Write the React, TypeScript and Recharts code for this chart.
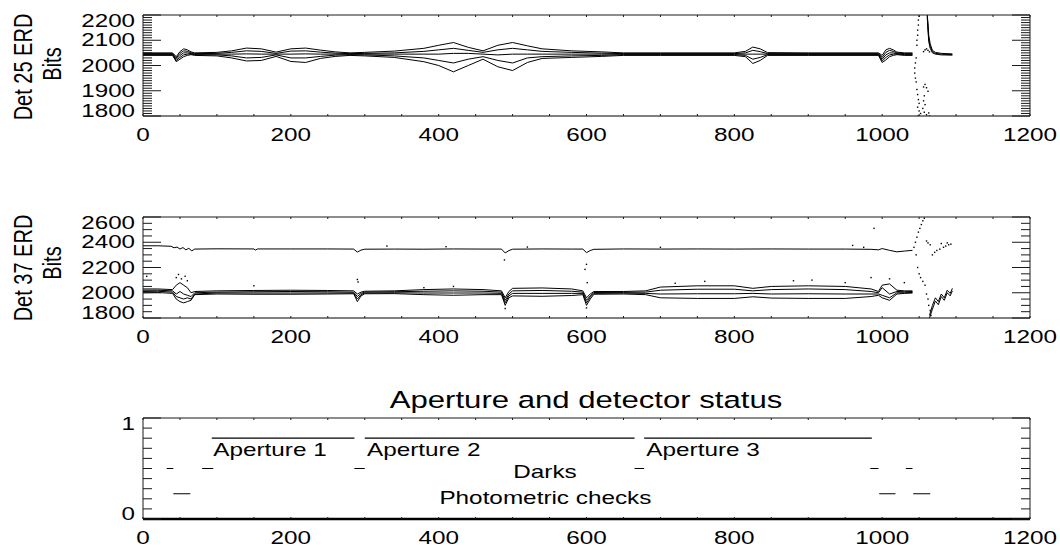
import React from "react"
import { ComposedChart, Line, Scatter, XAxis, YAxis } from "recharts"

const FONT = '"Liberation Sans", Arial, Helvetica, sans-serif'
const STRETCH = 1.35 // the reference glyphs are wide, like a horizontally stretched Helvetica
const AXIS = "#1a1a1a"
const INK = "#000"

// ====== shared x axis ======
const xLabels = [0, 200, 400, 600, 800, 1000, 1200]

// ====== Det 25 ERD (top panel) ======
const d25YLabels = [1800, 1900, 2000, 2100, 2200]
const d25X = [
  0, 40, 45, 50, 55, 60, 65, 70, 100, 120, 140, 160, 180, 200, 220, 240, 260, 280, 300, 340, 380, 400,
  420, 440, 460, 480, 500, 520, 540, 580, 620, 650, 700, 800, 815, 825, 835, 845, 900, 995, 1000, 1005,
  1010, 1015, 1020, 1030, 1041,
]
const d25A = [
  2050, 2050, 2035, 2055, 2066, 2062, 2054, 2050, 2052, 2058, 2069, 2066, 2053, 2066, 2069, 2061, 2054, 2050, 2052, 2057, 2068, 2080,
  2091, 2072, 2058, 2080, 2091, 2078, 2066, 2058, 2054, 2050, 2050, 2050, 2056, 2073, 2066, 2051, 2050, 2050, 2040, 2062,
  2068, 2062, 2053, 2050, 2050,
]
const d25B = [
  2047, 2047, 2030, 2048, 2058, 2056, 2050, 2047, 2048, 2052, 2058, 2056, 2048, 2057, 2058, 2053, 2049, 2047, 2048, 2050, 2056, 2062,
  2068, 2060, 2052, 2062, 2068, 2062, 2056, 2052, 2049, 2047, 2047, 2047, 2050, 2060, 2055, 2047, 2047, 2047, 2032, 2052,
  2060, 2056, 2050, 2047, 2047,
]
const d25C = [
  2045, 2045, 2025, 2040, 2050, 2050, 2047, 2045, 2045, 2045, 2046, 2045, 2045, 2045, 2046, 2045, 2045, 2045, 2045, 2045, 2045, 2045,
  2048, 2048, 2045, 2042, 2045, 2045, 2045, 2045, 2045, 2045, 2045, 2045, 2045, 2045, 2045, 2045, 2045, 2045, 2025, 2042,
  2050, 2050, 2047, 2045, 2045,
]
const d25D = [
  2043, 2043, 2020, 2032, 2042, 2045, 2045, 2043, 2042, 2038, 2030, 2032, 2042, 2030, 2030, 2036, 2041, 2043, 2042, 2038, 2030, 2020,
  2010, 2025, 2035, 2020, 2010, 2030, 2035, 2038, 2040, 2043, 2043, 2043, 2040, 2025, 2032, 2043, 2043, 2043, 2018, 2032,
  2042, 2045, 2045, 2043, 2043,
]
const d25E = [
  2040, 2040, 2015, 2025, 2035, 2040, 2043, 2040, 2038, 2030, 2018, 2020, 2036, 2016, 2012, 2028, 2036, 2040, 2038, 2032, 2015, 2000,
  1975, 2000, 2025, 1995, 1980, 2012, 2028, 2032, 2036, 2040, 2040, 2040, 2035, 2008, 2020, 2040, 2040, 2040, 2012, 2022,
  2035, 2040, 2043, 2040, 2040,
]
const d25TailX = [1061, 1062, 1063, 1065, 1068, 1072, 1080, 1095]
const d25TailA = [2200, 2165, 2120, 2085, 2060, 2052, 2048, 2046]
const d25TailB = [2198, 2150, 2105, 2075, 2055, 2048, 2045, 2043]
const d25TailC = [2190, 2140, 2095, 2068, 2050, 2045, 2042, 2041]
const d25Dots = [
  [1050, 2195], [1049, 2180], [1049, 2160], [1048, 2140], [1048, 2120], [1047, 2100], [1047, 2080],
  [1046, 2030], [1045, 2010], [1044, 1990], [1044, 1970], [1045, 1950], [1046, 1935], [1047, 1905],
  [1048, 1885], [1049, 1865], [1050, 1850], [1048, 1835], [1050, 1820], [1052, 1810], [1049, 1800],
  [1051, 1795], [1056, 1915], [1058, 1925], [1060, 1912], [1062, 1898], [1057, 1880], [1056, 1860],
  [1058, 1845], [1055, 1830], [1057, 1815], [1060, 1805], [1063, 1812], [1064, 1800], [1056, 2055],
  [1058, 2062], [1060, 2066], [1062, 2060], [1064, 2054],
]

// ====== Det 37 ERD (middle panel) ======
const d37YLabels = [1800, 2000, 2200, 2400, 2600]
const d37TopX = [
  0, 20, 38, 42, 46, 50, 54, 58, 62, 66, 70, 100, 150, 152, 155, 200, 250, 285, 290, 295, 300, 340, 380, 420, 460,
  485, 490, 495, 500, 540, 580, 595, 600, 605, 610, 650, 700, 750, 800, 850, 900, 950, 985, 995, 1000, 1010, 1020,
  1030, 1041,
]
const d37Top = [
  2372, 2372, 2368, 2356, 2362, 2346, 2358, 2340, 2352, 2332, 2346, 2348, 2347, 2338, 2347, 2347, 2347, 2346, 2322, 2338, 2345, 2346, 2345, 2347, 2346,
  2346, 2315, 2334, 2345, 2347, 2346, 2346, 2318, 2334, 2344, 2347, 2346, 2347, 2346, 2347, 2346, 2346, 2344, 2340, 2350, 2336, 2324,
  2330, 2336,
]
const d37X = [
  0, 20, 40, 45, 50, 55, 60, 65, 70, 100, 150, 200, 250, 285, 290, 295, 300, 340, 380, 420, 460, 485, 490, 495,
  500, 540, 580, 595, 600, 605, 610, 650, 680, 700, 750, 800, 825, 850, 900, 950, 985, 995, 1000, 1010, 1020, 1030, 1041,
]
const d37A = [
  2030, 2030, 2025, 2060, 2080, 2060, 2040, 2000, 2010, 2015, 2018, 2020, 2018, 2015, 1990, 2005, 2012, 2015, 2025, 2030, 2025, 2015, 1960, 2010,
  2035, 2038, 2030, 2015, 1960, 1990, 2010, 2010, 2015, 2045, 2055, 2055, 2035, 2050, 2055, 2050, 2030, 2010, 2060, 2070, 2020, 2015, 2015,
]
const d37B = [
  2020, 2020, 2015, 1990, 2010, 1990, 1980, 1970, 2000, 2005, 2008, 2010, 2008, 2005, 1970, 1995, 2005, 2008, 2012, 2015, 2012, 2005, 1940, 1990,
  2015, 2018, 2012, 2005, 1940, 1975, 2002, 2003, 2005, 2020, 2028, 2028, 2015, 2025, 2030, 2025, 2010, 2000, 2040, 1990, 2010, 2008, 2010,
]
const d37C = [
  2010, 2012, 2005, 1970, 1960, 1950, 1960, 1950, 1990, 1998, 1998, 1998, 1998, 1998, 1950, 1985, 1998, 2000, 1998, 1998, 1998, 1995, 1920, 1975,
  1995, 1995, 1995, 1995, 1920, 1965, 1995, 1997, 1995, 1990, 1992, 1992, 1995, 1990, 1992, 1990, 1990, 1990, 1980, 1960, 2000, 2000, 2002,
]
const d37D = [
  2000, 2002, 1995, 1950, 1930, 1920, 1930, 1940, 1985, 1990, 1988, 1988, 1990, 1992, 1930, 1975, 1992, 1993, 1985, 1980, 1985, 1985, 1900, 1960,
  1975, 1972, 1978, 1985, 1900, 1950, 1988, 1990, 1985, 1960, 1955, 1955, 1968, 1958, 1955, 1955, 1970, 1980, 1960, 1940, 1990, 1995, 1998,
]
const d37TailX = [1064, 1068, 1072, 1076, 1080, 1084, 1088, 1092, 1095]
const d37TailA = [1820, 1900, 1960, 1930, 1990, 1960, 2020, 1995, 2035]
const d37TailB = [1800, 1870, 1935, 1905, 1970, 1940, 2000, 1975, 2015]
const d37Dots = [
  [5, 2130], [45, 2120], [48, 2145], [52, 2110], [57, 2130], [60, 2095], [150, 2055], [290, 2105], [291, 2085],
  [330, 2370], [380, 2040], [410, 2365], [420, 2050], [489, 2260], [490, 1875], [520, 2362], [598, 2185],
  [600, 2225], [601, 2080], [600, 1880], [700, 2360], [720, 2075], [760, 2090], [880, 2095], [905, 2100],
  [950, 2080], [960, 2375], [975, 2360], [985, 2120], [989, 2510], [1010, 2110], [1030, 2080], [1043, 2360],
  [1045, 2400], [1047, 2440], [1049, 2480], [1051, 2510], [1053, 2540], [1055, 2570], [1057, 2590],
  [1046, 2300], [1048, 2200], [1050, 2150], [1052, 2120], [1055, 2090], [1058, 2060], [1060, 1990],
  [1062, 1950], [1063, 1900], [1065, 1860], [1066, 1820], [1060, 2410], [1062, 2395], [1065, 2380],
  [1068, 2300], [1071, 2320], [1074, 2335], [1078, 2345], [1083, 2360], [1086, 2370], [1090, 2380],
  [1093, 2385], [1080, 2390], [1088, 2395],
]

// ====== Aperture and detector status (bottom panel) ======
const statusYLabels = [0, 1]
const apertureLevel = 0.8
const darksLevel = 0.5
const photoLevel = 0.25
const apertureSegs = [[93, 286], [300, 665], [678, 986]]
const darksSegs = [[32, 41], [80, 95], [286, 300], [665, 678], [984, 995], [1032, 1041]]
const photoSegs = [[41, 64], [996, 1018], [1042, 1065]]
const statusText = ["Aperture 1", "Aperture 2", "Aperture 3", "Darks", "Photometric checks"]
const statusTextX = [95, 303, 681, 501, 401]
const statusTextY = [0.62, 0.62, 0.62, 0.41, 0.15]

// ====== helpers ======
const range = (a: number, b: number, s: number) => {
  const out: number[] = []
  for (let v = a; v <= b + 1e-9; v += s) out.push(Math.round(v * 1000) / 1000)
  return out
}
const pts = (xs: number[], ys: number[]) => xs.map((x, i) => ({ x, y: ys[i] }))
const pairs = (list: number[][]) => list.map(([x, y]) => ({ x, y }))
const segPts = (segs: number[][], level: number) =>
  segs.flatMap(([a, b]) => [
    { x: a, y: level },
    { x: b, y: level },
    { x: b, y: null },
  ])

// ---- tick renderers: each draws its own inward tick mark (IDL style) ----
function BottomTick(props: any) {
  const { x, y, payload } = props
  const v = payload.value
  return (
    <g>
      <line x1={x} y1={y} x2={x} y2={y - 2} stroke={AXIS} strokeWidth={1} />
      {xLabels.includes(v) && (
        <text
          transform={`translate(${x},${y + 25}) scale(${STRETCH},1)`}
          textAnchor="middle"
          fontSize={18}
          fontFamily={FONT}
          fill={INK}
        >
          {v}
        </text>
      )}
    </g>
  )
}

function TopTick(props: any) {
  const { x, y } = props
  return <line x1={x} y1={y} x2={x} y2={y + 2} stroke={AXIS} strokeWidth={1} />
}

function LeftTick(props: any) {
  const { x, y, payload, lo, hi, labels, majors } = props
  const v = payload.value
  const len = majors.includes(v) ? 18 : 9
  // IDL keeps the end labels inside the box
  let base = y + 6
  if (v === hi) base = y + 12
  if (v === lo) base = y + 0.5
  return (
    <g>
      <line x1={x} y1={y} x2={x + len} y2={y} stroke={AXIS} strokeWidth={1} />
      {labels.includes(v) && (
        <text
          transform={`translate(${x - 8},${base}) scale(1.38,1)`}
          textAnchor="end"
          fontSize={17.5}
          fontFamily={FONT}
          fill={INK}
        >
          {v}
        </text>
      )}
    </g>
  )
}

function RightTick(props: any) {
  const { x, y, payload, majors } = props
  const len = majors.includes(payload.value) ? 18 : 9
  return <line x1={x} y1={y} x2={x - len} y2={y} stroke={AXIS} strokeWidth={1} />
}

function Dot(props: any) {
  const { cx, cy } = props
  if (cx == null || cy == null) return null
  return <rect x={cx - 0.7} y={cy - 0.7} width={1.4} height={1.4} fill={INK} />
}

function StatusLabel(props: any) {
  const { cx, cy, payload } = props
  return (
    <text
      transform={`translate(${cx},${cy}) scale(${STRETCH},1)`}
      fontSize={18}
      fontFamily={FONT}
      fill={INK}
    >
      {payload.text}
    </text>
  )
}

// box with inward ticks on all four sides
function frame(
  yDomain: [number, number],
  yLabels: number[],
  yMinor: number[],
  yMajor: number[],
  bottomWidth = 1
) {
  const xMinor = range(0, 1200, 50)
  const base = { type: "number" as const, allowDataOverflow: true, interval: 0 as const, tickLine: false, tickSize: 0, tickMargin: 0 }
  return [
    <XAxis
      key="xb"
      xAxisId="main"
      dataKey="x"
      domain={[0, 1200]}
      ticks={xMinor}
      height={28}
      stroke={AXIS}
      strokeWidth={bottomWidth}
      axisLine={{ stroke: INK, strokeWidth: bottomWidth }}
      tick={<BottomTick />}
      {...base}
    />,
    <XAxis
      key="xt"
      xAxisId="top"
      dataKey="x"
      orientation="top"
      domain={[0, 1200]}
      ticks={xMinor}
      height={1}
      axisLine={{ stroke: AXIS }}
      tick={<TopTick />}
      {...base}
    />,
    <YAxis
      key="yl"
      yAxisId="main"
      domain={yDomain}
      ticks={yMinor}
      width={60}
      axisLine={{ stroke: AXIS }}
      tick={<LeftTick lo={yDomain[0]} hi={yDomain[1]} labels={yLabels} majors={yMajor} />}
      {...base}
    />,
    <YAxis
      key="yr"
      yAxisId="right"
      orientation="right"
      domain={yDomain}
      ticks={yMinor}
      width={1}
      axisLine={{ stroke: AXIS }}
      tick={<RightTick majors={yMajor} />}
      {...base}
    />,
  ]
}

function trace(key: string, data: any[], width = 1) {
  return (
    <Line
      key={key}
      xAxisId="main"
      yAxisId="main"
      data={data}
      dataKey="y"
      type="linear"
      stroke={INK}
      strokeWidth={width}
      dot={false}
      activeDot={false}
      isAnimationActive={false}
    />
  )
}

const MARGIN_X = { left: 83, right: 29 }

export default function App() {
  const d25Lines = [d25A, d25B, d25C, d25D, d25E].map((ys, i) => trace(`d25-${i}`, pts(d25X, ys)))
  const d25Tail = [d25TailA, d25TailB, d25TailC].map((ys, i) => trace(`d25t-${i}`, pts(d25TailX, ys)))
  const d37Lines = [d37A, d37B, d37C, d37D].map((ys, i) => trace(`d37-${i}`, pts(d37X, ys)))
  const d37Tail = [d37TailA, d37TailB].map((ys, i) => trace(`d37t-${i}`, pts(d37TailX, ys)))
  const statusLabels = statusText.map((text, i) => ({ x: statusTextX[i], y: statusTextY[i], text }))

  return (
    <div style={{ position: "absolute", left: 0, top: 0, width: 1060, height: 547, background: "#fff" }}>
      <div style={{ position: "absolute", left: 0, top: 0 }}>
        <ComposedChart width={1060} height={150} margin={{ ...MARGIN_X, top: 14, bottom: 6 }}>
          {frame([1800, 2200], d25YLabels, range(1800, 2200, 10), range(1800, 2200, 100))}
          {d25Lines}
          {d25Tail}
          <Scatter xAxisId="top" yAxisId="right" data={pairs(d25Dots)} dataKey="y" shape={<Dot />} isAnimationActive={false} />
        </ComposedChart>
      </div>

      <div style={{ position: "absolute", left: 0, top: 200 }}>
        <ComposedChart width={1060} height={150} margin={{ ...MARGIN_X, top: 16, bottom: 4 }}>
          {frame([1800, 2600], d37YLabels, range(1800, 2600, 50), range(1800, 2600, 200))}
          {trace("d37-top", pts(d37TopX, d37Top))}
          {d37Lines}
          {d37Tail}
          <Scatter xAxisId="top" yAxisId="right" data={pairs(d37Dots)} dataKey="y" shape={<Dot />} isAnimationActive={false} />
        </ComposedChart>
      </div>

      <div style={{ position: "absolute", left: 0, top: 380 }}>
        <ComposedChart width={1060} height={167} margin={{ ...MARGIN_X, top: 37, bottom: 0 }}>
          {frame([0, 1], statusYLabels, range(0, 1, 0.1), [0, 1], 2.5)}
          {trace("aperture", segPts(apertureSegs, apertureLevel), 1.2)}
          {trace("darks", segPts(darksSegs, darksLevel), 1.2)}
          {trace("photo", segPts(photoSegs, photoLevel), 1.2)}
          <Scatter xAxisId="top" yAxisId="right" data={statusLabels} dataKey="y" shape={<StatusLabel />} isAnimationActive={false} />
        </ComposedChart>
      </div>

      <svg width={1060} height={547} style={{ position: "absolute", left: 0, top: 0, pointerEvents: "none" }}>
        <g fontFamily={FONT} fill={INK} textAnchor="middle">
          <text transform={`translate(31.5,67) scale(1.31,1) rotate(-90)`} fontSize={20}>Det 25 ERD</text>
          <text transform={`translate(61,64) scale(1.31,1) rotate(-90)`} fontSize={20}>Bits</text>
          <text transform={`translate(31.5,268) scale(1.31,1) rotate(-90)`} fontSize={20}>Det 37 ERD</text>
          <text transform={`translate(61,263) scale(1.31,1) rotate(-90)`} fontSize={20}>Bits</text>
          <text transform={`translate(586,408) scale(1.27,1)`} fontSize={24.5}>Aperture and detector status</text>
        </g>
      </svg>
    </div>
  )
}
